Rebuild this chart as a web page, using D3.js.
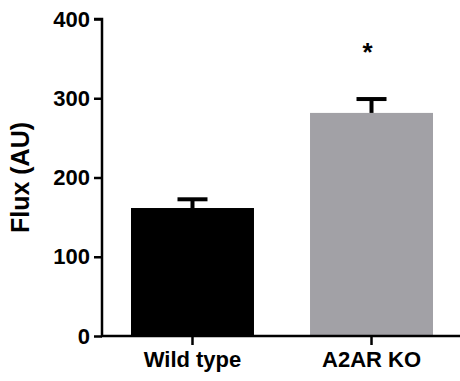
<!DOCTYPE html>
<meta charset="utf-8">
<style>
  body { margin: 0; background: #fff; }
  text { font-family: "Liberation Sans", Arial, sans-serif; font-weight: bold; }
</style>
<body>
<script src="https://d3js.org/d3.v7.min.js"></script>
<script>
  var groups = ["Wild type", "A2AR KO"];
  var means = [161.5, 281.5];
  var errors = [11, 17.5];
  var colors = ["#000000", "#a2a1a6"];
  var marks = ["", "*"];
  var yTicks = [0, 100, 200, 300, 400];

  var width = 460, height = 381;
  var margin = { top: 19, right: 0, bottom: 45, left: 102 };

  var svg = d3.select("body").append("svg")
    .attr("width", width)
    .attr("height", height);

  var x = d3.scaleBand()
    .domain(groups)
    .range([margin.left, 462])
    .paddingInner(0.313)
    .paddingOuter(0.162);

  var y = d3.scaleLinear()
    .domain([0, 400])
    .range([height - margin.bottom, margin.top]);

  // bars
  svg.selectAll(".bar")
    .data(groups)
    .enter().append("rect")
    .attr("class", "bar")
    .attr("x", function (d) { return x(d); })
    .attr("width", x.bandwidth())
    .attr("y", function (d, i) { return y(means[i]); })
    .attr("height", function (d, i) { return y(0) - y(means[i]); })
    .attr("fill", function (d, i) { return colors[i]; });

  // error bars (upper only)
  var err = svg.selectAll(".err")
    .data(groups)
    .enter().append("g")
    .attr("class", "err")
    .attr("stroke", "#000")
    .attr("stroke-width", 4);

  err.append("line")
    .attr("x1", function (d) { return x(d) + x.bandwidth() / 2; })
    .attr("x2", function (d) { return x(d) + x.bandwidth() / 2; })
    .attr("y1", function (d, i) { return y(means[i]); })
    .attr("y2", function (d, i) { return y(means[i] + errors[i]); });

  err.append("line")
    .attr("x1", function (d) { return x(d) + x.bandwidth() / 2 - 15; })
    .attr("x2", function (d) { return x(d) + x.bandwidth() / 2 + 15; })
    .attr("y1", function (d, i) { return y(means[i] + errors[i]); })
    .attr("y2", function (d, i) { return y(means[i] + errors[i]); });

  // significance marks
  svg.selectAll(".mark")
    .data(groups)
    .enter().append("text")
    .attr("class", "mark")
    .attr("x", function (d) { return x(d) + x.bandwidth() / 2 - 4; })
    .attr("y", function (d, i) { return y(means[i] + errors[i]) - 38; })
    .attr("text-anchor", "middle")
    .style("font-size", "26px")
    .text(function (d, i) { return marks[i]; });

  // y axis
  var yAxis = svg.append("g")
    .attr("transform", "translate(" + margin.left + ",0)")
    .call(d3.axisLeft(y).tickValues(yTicks).tickSize(8).tickPadding(4));

  // x axis
  var xAxis = svg.append("g")
    .attr("transform", "translate(0," + y(0) + ")")
    .call(d3.axisBottom(x).tickSize(9).tickPadding(6).tickSizeOuter(0));

  [yAxis, xAxis].forEach(function (a) {
    a.selectAll(".domain").attr("stroke", "#000").attr("stroke-width", 2.5);
    a.selectAll(".tick line").attr("stroke", "#000").attr("stroke-width", 2.5);
    a.selectAll(".tick text").attr("fill", "#000")
      .style("font-size", "22px")
      .style("font-family", "'Liberation Sans', Arial, sans-serif")
      .style("font-weight", "bold");
  });
  yAxis.select(".domain").attr("d", "M-8," + y(400) + "H0V" + y(0));
  xAxis.select(".domain").attr("d", "M" + (margin.left - 1) + ",0H" + width);

  // y title
  svg.append("text")
    .attr("transform", "translate(29," + ((y(0) + y(400)) / 2) + ") rotate(-90)")
    .attr("text-anchor", "middle")
    .style("font-size", "25px")
    .text("Flux (AU)");
</script>
</body>
